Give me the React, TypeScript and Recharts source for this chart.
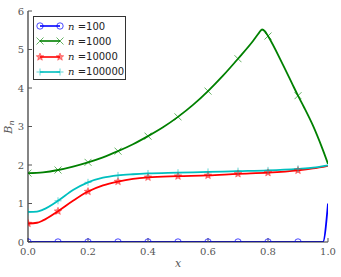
import { ComposedChart, Line, XAxis, YAxis, Label } from "recharts";

const X_TICKS = [0, 0.2, 0.4, 0.6, 0.8, 1.0];
const Y_TICKS = [0, 1, 2, 3, 4, 5, 6];
const MARKER_X = [0, 0.1, 0.2, 0.3, 0.4, 0.5, 0.6, 0.7, 0.8, 0.9];

// n = 100
const N100_X = [0, 0.1, 0.2, 0.3, 0.4, 0.5, 0.6, 0.7, 0.8, 0.9, 0.983, 1.0];
const N100_Y = [0, 0, 0, 0, 0, 0, 0, 0, 0, 0, 0, 1.0];

// n = 1000
const N1000_X = [0, 0.05, 0.1, 0.15, 0.2, 0.25, 0.3, 0.35, 0.4, 0.45, 0.5, 0.55, 0.6, 0.65, 0.7, 0.75, 0.77, 0.78, 0.79, 0.8, 0.85, 0.88, 0.9, 0.92, 0.95, 0.98, 1.0];
const N1000_Y = [1.79, 1.81, 1.87, 1.96, 2.07, 2.2, 2.36, 2.54, 2.75, 2.98, 3.25, 3.56, 3.92, 4.32, 4.76, 5.22, 5.43, 5.52, 5.47, 5.35, 4.6, 4.12, 3.8, 3.5, 3.02, 2.45, 2.03];

// n = 10000
const N10000_X = [0, 0.03, 0.05, 0.1, 0.15, 0.2, 0.25, 0.3, 0.35, 0.4, 0.5, 0.6, 0.7, 0.8, 0.9, 0.95, 1.0];
const N10000_Y = [0.48, 0.5, 0.56, 0.8, 1.07, 1.31, 1.47, 1.57, 1.64, 1.68, 1.71, 1.73, 1.77, 1.8, 1.86, 1.91, 1.98];

// n = 100000
const N100000_X = [0, 0.03, 0.05, 0.1, 0.15, 0.2, 0.25, 0.3, 0.35, 0.4, 0.5, 0.6, 0.7, 0.8, 0.9, 0.95, 1.0];
const N100000_Y = [0.78, 0.79, 0.84, 1.07, 1.35, 1.55, 1.67, 1.73, 1.76, 1.78, 1.8, 1.82, 1.84, 1.86, 1.9, 1.93, 1.99];

const toPoints = (xs: number[], ys: number[]) => xs.map((x, i) => ({ x, y: ys[i] }));

type Kind = "circle" | "x" | "star" | "plus";

const SERIES: { name: string; kind: Kind; color: string; data: { x: number; y: number }[] }[] = [
  { name: "100", kind: "circle", color: "#0000ff", data: toPoints(N100_X, N100_Y) },
  { name: "1000", kind: "x", color: "#008000", data: toPoints(N1000_X, N1000_Y) },
  { name: "10000", kind: "star", color: "#ff0000", data: toPoints(N10000_X, N10000_Y) },
  { name: "100000", kind: "plus", color: "#00bfbf", data: toPoints(N100000_X, N100000_Y) },
];

const starPath = (cx: number, cy: number, R: number, r: number) => {
  let d = "";
  for (let i = 0; i < 10; i++) {
    const rad = i % 2 === 0 ? R : r;
    const a = -Math.PI / 2 + (i * Math.PI) / 5;
    d += (i === 0 ? "M" : "L") + (cx + rad * Math.cos(a)).toFixed(2) + "," + (cy + rad * Math.sin(a)).toFixed(2);
  }
  return d + "Z";
};

const Marker = ({ kind, cx, cy, color }: { kind: Kind; cx: number; cy: number; color: string }) => {
  const s = 3.5;
  if (kind === "circle") {
    return <circle cx={cx} cy={cy} r={3.2} fill="none" stroke={color} strokeWidth={1} opacity={0.7} />;
  }
  if (kind === "x") {
    return (
      <g stroke={color} strokeWidth={1} opacity={0.6}>
        <line x1={cx - s} y1={cy - s} x2={cx + s} y2={cy + s} />
        <line x1={cx - s} y1={cy + s} x2={cx + s} y2={cy - s} />
      </g>
    );
  }
  if (kind === "star") {
    return <path d={starPath(cx, cy, 4, 1.8)} fill={color} fillOpacity={0.5} stroke={color} strokeWidth={0.6} strokeOpacity={0.6} />;
  }
  return (
    <g stroke={color} strokeWidth={1} opacity={0.6}>
      <line x1={cx - s} y1={cy} x2={cx + s} y2={cy} />
      <line x1={cx} y1={cy - s} x2={cx} y2={cy + s} />
    </g>
  );
};

const isMarker = (x: number) => MARKER_X.some((m) => Math.abs(m - x) < 1e-6);

const makeDot = (kind: Kind, color: string) => (props: any) => {
  const { cx, cy, payload, index } = props;
  if (cx == null || cy == null || !isMarker(payload.x)) return <g key={index} />;
  return (
    <g key={index}>
      <Marker kind={kind} cx={cx} cy={cy} color={color} />
    </g>
  );
};

const TICK_STYLE = { fontFamily: "DejaVu Serif", fontSize: 10, fill: "#555" };

const YLabel = () => (
  <text x={12} y={127} transform="rotate(-90 12 127)" textAnchor="middle" fontFamily="DejaVu Serif" fontStyle="italic" fontSize={11} fill="#555">
    B<tspan fontSize={8} dy={2}>n</tspan>
  </text>
);

const LegendBox = () => (
  <div
    style={{
      position: "absolute",
      left: 33,
      top: 16,
      width: 93,
      height: 64,
      border: "1px solid #333",
      background: "#fff",
      boxSizing: "border-box",
    }}
  >
    {SERIES.map((s, i) => (
      <div key={s.name} style={{ position: "absolute", left: 4, top: 2 + i * 15.3, height: 14, display: "flex", alignItems: "center" }}>
        <svg width={24} height={12} style={{ overflow: "visible" }}>
          <line x1={2} y1={6} x2={22} y2={6} stroke={s.color} strokeWidth={1.6} />
          <Marker kind={s.kind} cx={2} cy={6} color={s.color} />
          <Marker kind={s.kind} cx={22} cy={6} color={s.color} />
        </svg>
        <span style={{ marginLeft: 6, fontSize: 10, color: "#222", whiteSpace: "nowrap", fontFamily: "DejaVu Sans" }}>
          <span style={{ fontFamily: "DejaVu Serif", fontStyle: "italic" }}>n</span> =
          {s.name}
        </span>
      </div>
    ))}
  </div>
);

export default function App() {
  return (
    <div style={{ position: "absolute", left: 0, top: 0, width: 341, height: 277, background: "#fff" }}>
      <ComposedChart width={341} height={277} margin={{ top: 11, right: 13, bottom: 0, left: 0 }}>
        <XAxis
          xAxisId="bottom"
          type="number"
          dataKey="x"
          domain={[0, 1]}
          ticks={X_TICKS}
          allowDataOverflow
          height={35}
          tickSize={-4}
          tickMargin={10}
          tick={TICK_STYLE}
          tickFormatter={(v: number) => v.toFixed(1)}
          axisLine={{ stroke: "#333", strokeWidth: 1.2 }}
          tickLine={{ stroke: "#555" }}
        >
          <Label
            position="insideBottom"
            offset={10}
            content={() => (
              <text x={178} y={267} textAnchor="middle" fontFamily="DejaVu Serif" fontStyle="italic" fontSize={11} fill="#555">
                x
              </text>
            )}
          />
        </XAxis>
        <XAxis
          xAxisId="top"
          orientation="top"
          type="number"
          dataKey="x"
          domain={[0, 1]}
          ticks={X_TICKS}
          allowDataOverflow
          height={0}
          tickSize={-4}
          tick={false}
          axisLine={{ stroke: "#555", strokeWidth: 1.2 }}
          tickLine={{ stroke: "#555" }}
        />
        <YAxis
          yAxisId="left"
          type="number"
          domain={[0, 6]}
          ticks={Y_TICKS}
          allowDataOverflow
          width={28}
          tickSize={-4}
          tickMargin={8}
          tick={TICK_STYLE}
          axisLine={{ stroke: "#333", strokeWidth: 1.2 }}
          tickLine={{ stroke: "#555" }}
        >
          <Label content={() => <YLabel />} />
        </YAxis>
        <YAxis
          yAxisId="right"
          orientation="right"
          type="number"
          domain={[0, 6]}
          ticks={Y_TICKS}
          allowDataOverflow
          width={0}
          tickSize={-4}
          tick={false}
          axisLine={{ stroke: "#999", strokeWidth: 1.8 }}
          tickLine={{ stroke: "#555" }}
        />
        {SERIES.map((s) => (
          <Line
            key={s.name}
            xAxisId="bottom"
            yAxisId="left"
            data={s.data}
            dataKey="y"
            type="monotone"
            stroke={s.color}
            strokeWidth={1.8}
            dot={makeDot(s.kind, s.color)}
            activeDot={false}
            isAnimationActive={false}
          />
        ))}
      </ComposedChart>
      <LegendBox />
    </div>
  );
}
